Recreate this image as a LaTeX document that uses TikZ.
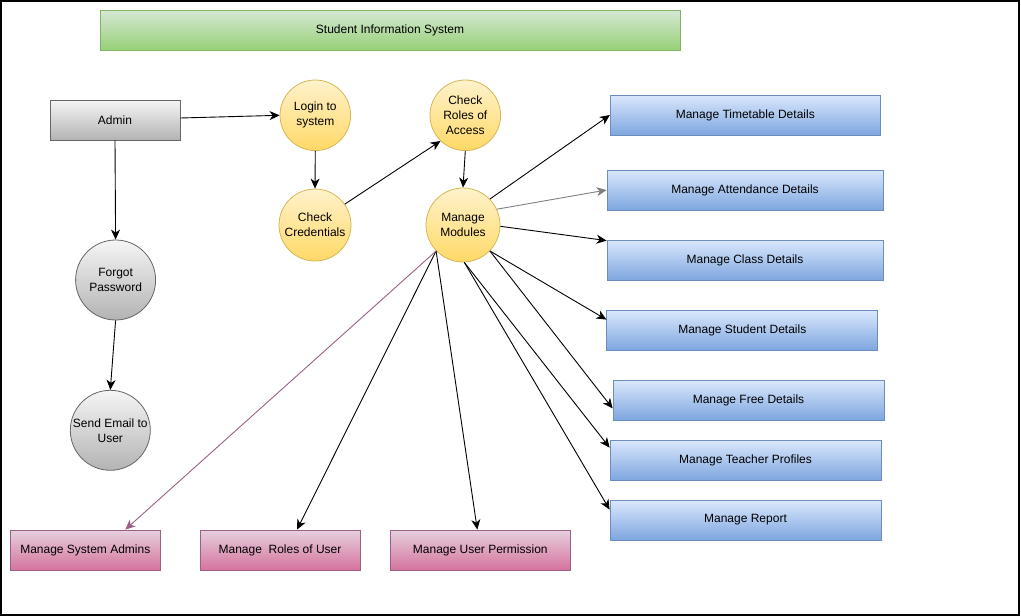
\documentclass[tikz,border=0pt]{standalone}
\usepackage{fontspec}
\setmainfont{Liberation Sans}
\usetikzlibrary{arrows.meta}
\definecolor{greentop}{HTML}{D5E8D4}
\definecolor{greenbot}{HTML}{97D077}
\definecolor{greendraw}{HTML}{82B366}
\definecolor{greytop}{HTML}{F5F5F5}
\definecolor{greybot}{HTML}{B3B3B3}
\definecolor{greydraw}{HTML}{666666}
\definecolor{yeltop}{HTML}{FFF2CC}
\definecolor{yelbot}{HTML}{FFD966}
\definecolor{yeldraw}{HTML}{D6B656}
\definecolor{bluetop}{HTML}{DAE8FC}
\definecolor{bluebot}{HTML}{7EA6E0}
\definecolor{bluedraw}{HTML}{6C8EBF}
\definecolor{pinktop}{HTML}{E6D0DE}
\definecolor{pinkbot}{HTML}{D5739D}
\definecolor{pinkdraw}{HTML}{996185}
\definecolor{arrgrey}{HTML}{808080}
\begin{document}
\begin{tikzpicture}[x=1pt,y=-1pt,
  base/.style={inner sep=0pt, align=center, font=\fontsize{12}{15}\selectfont, line width=0.8pt, shading=axis},
  rbox/.style={base, rectangle, minimum height=40pt},
  greenbox/.style={rbox, draw=greendraw, top color=greentop, bottom color=greenbot},
  greybox/.style={rbox, draw=greydraw, top color=greytop, bottom color=greybot},
  bluebox/.style={rbox, draw=bluedraw, top color=bluetop, bottom color=bluebot},
  pinkbox/.style={rbox, draw=pinkdraw, top color=pinktop, bottom color=pinkbot},
  yelcirc/.style={base, circle, draw=yeldraw, top color=yeltop, bottom color=yelbot},
  greycirc/.style={base, circle, draw=greydraw, top color=greytop, bottom color=greybot},
  arr/.style={-{Stealth[length=10pt,width=9pt,inset=3pt]}, line width=0.9pt, draw=black},
  arrg/.style={arr, draw=arrgrey, color=arrgrey},
  arrp/.style={arr, draw=pinkdraw, color=pinkdraw}]
\useasboundingbox (0,0) rectangle (1021,616);
\draw[line width=2pt] (1,1) rectangle (1018.5,615);

\node[greenbox, minimum width=580pt] (title) at (390,30) {Student Information System};
\node[greybox, minimum width=130pt] (admin) at (115,120) {Admin};

\node[yelcirc, minimum size=70.6pt] (login) at (315.3,115.3) {Login to\\system};
\node[yelcirc, minimum size=72pt] (cc) at (315,225) {Check\\Credentials};
\node[yelcirc, minimum size=70.6pt] (cr) at (465.3,115.3) {Check\\Roles of\\Access};
\node[yelcirc, minimum size=74pt] (mm) at (463,225) {Manage\\Modules};

\node[greycirc, minimum size=80pt] (forgot) at (115.6,280) {Forgot\\Password};
\node[greycirc, minimum size=80pt] (send) at (110.3,430.3) {Send Email to\\User};

\node[bluebox, minimum width=270pt] (tt) at (745.3,115) {Manage Timetable Details};
\node[bluebox, minimum width=276pt] (att) at (745,190) {Manage Attendance Details};
\node[bluebox, minimum width=276pt] (cls) at (745,260) {Manage Class Details};
\node[bluebox, minimum width=271pt] (stu) at (742.3,330) {Manage Student Details};
\node[bluebox, minimum width=271pt] (free) at (748.5,400) {Manage Free Details};
\node[bluebox, minimum width=271pt] (tch) at (745.5,460) {Manage Teacher Profiles};
\node[bluebox, minimum width=271pt] (rep) at (745.5,520) {Manage Report};

\node[pinkbox, minimum width=150.6pt] (sa) at (85.3,550) {Manage System Admins};
\node[pinkbox, minimum width=160pt] (rou) at (280,550) {Manage\ \ Roles of User};
\node[pinkbox, minimum width=180.6pt] (up) at (480.3,550) {Manage User Permission};

\draw[arr] ([yshift=2pt]admin.east) -- (login.west);
\draw[arr] (admin.south) -- (forgot.north);
\draw[arr] (forgot.south) -- (send.north);
\draw[arr] (login.south) -- (cc.north);
\draw[arr] (cc.35) -- (cr.226);
\draw[arr] (cr.south) -- (mm.north);

\draw[arr] (mm.44) -- (tt.west);
\draw[arrg] (mm.25) -- (att.west);
\draw[arr] (mm.-2) -- ([yshift=-1pt]cls.north west);
\draw[arr] (mm.-44) -- ([yshift=-10pt]stu.north west);
\draw[arr] (mm.-44) -- ([yshift=12pt]free.south west);
\draw[arr] (mm.-88) -- ([yshift=-8pt]tch.north west);
\draw[arr] (mm.-88) -- ([yshift=-10pt]rep.north west);
\draw[arr] (mm.224) -- ([xshift=-3pt]up.north);
\draw[arr] (mm.224) -- ([xshift=17pt]rou.north);
\draw[arrp] (mm.224) -- ([xshift=40pt]sa.north);
\end{tikzpicture}
\end{document}
